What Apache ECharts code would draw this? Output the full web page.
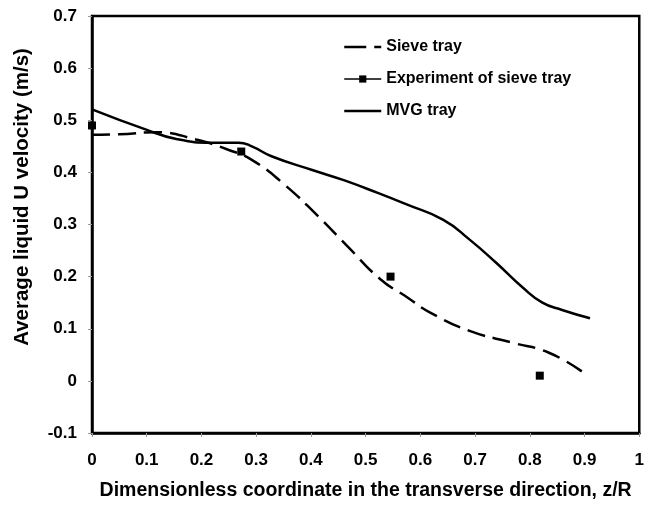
<!DOCTYPE html>
<html>
<head>
<meta charset="utf-8">
<script src="https://cdn.jsdelivr.net/npm/echarts@6/dist/echarts.min.js"></script>
<style>
html,body{margin:0;padding:0;background:#fff;}
#chart{width:647px;height:506px;}
</style>
</head>
<body>
<div id="chart"></div>
<script>
// ---- data ----
const sieveX = [0, 0.05, 0.118, 0.19, 0.25, 0.292, 0.35, 0.413, 0.467, 0.527, 0.575, 0.618, 0.69, 0.769, 0.835, 0.898];
const sieveY = [0.472, 0.473, 0.477, 0.463, 0.443, 0.424, 0.378, 0.316, 0.258, 0.195, 0.161, 0.131, 0.096, 0.073, 0.054, 0.016];

const expX = [0, 0.2727, 0.5455, 0.8182];
const expY = [0.49, 0.44, 0.20, 0.01];

const mvgX = [0, 0.099, 0.154, 0.22, 0.268, 0.292, 0.328, 0.401, 0.46, 0.521, 0.576, 0.642, 0.69, 0.738, 0.787, 0.823, 0.859, 0.91];
const mvgY = [0.521, 0.482, 0.464, 0.457, 0.457, 0.450, 0.431, 0.405, 0.385, 0.361, 0.338, 0.309, 0.271, 0.227, 0.179, 0.150, 0.136, 0.120];

const seriesNames = ['Sieve tray', 'Experiment of sieve tray', 'MVG tray'];
const xTitle = 'Dimensionless coordinate in the transverse direction, z/R';
const yTitle = 'Average liquid U velocity (m/s)';

const pairs = (xs, ys) => xs.map((x, i) => [x, ys[i]]);
const FONT = 'Liberation Sans, Arial, sans-serif';

const chart = echarts.init(document.getElementById('chart'), null, {renderer: 'canvas'});
const fmt = v => {
  const r = Math.round(v * 10) / 10;
  return r === 0 ? '0' : String(r);
};

chart.setOption({
  animation: false,
  backgroundColor: '#fff',
  grid: {
    left: 92, right: 2, top: 16, bottom: 72,
    show: true, borderColor: '#000', borderWidth: 2.5
  },
  graphic: [{
    type: 'text',
    rotation: Math.PI / 2,
    x: 22, y: 197,
    style: {
      text: yTitle, fill: '#000',
      font: 'bold 20.5px ' + FONT,
      align: 'center', verticalAlign: 'middle'
    }
  }],
  legend: {
    orient: 'vertical',
    left: 338, top: 34,
    itemWidth: 37, itemHeight: 9, itemGap: 16,
    textStyle: {fontFamily: FONT, fontWeight: 'bold', fontSize: 16, color: '#000'},
    data: [
      {name: seriesNames[0], itemStyle: {opacity: 0}, lineStyle: {type: [22, 8], width: 2.5, color: '#000'}},
      {name: seriesNames[1], itemStyle: {opacity: 1, color: '#000'}, lineStyle: {opacity: 1, width: 1.5, color: '#000'}},
      {name: seriesNames[2], itemStyle: {opacity: 0}, lineStyle: {width: 2.5, color: '#000'}}
    ]
  },
  xAxis: {
    type: 'value', min: 0, max: 1, interval: 0.1,
    name: xTitle, nameLocation: 'middle', nameGap: 48,
    nameTextStyle: {fontFamily: FONT, fontWeight: 'bold', fontSize: 19.5, color: '#000'},
    axisLine: {show: true, onZero: false, lineStyle: {color: '#000', width: 2.5}},
    axisTick: {show: true, length: 4, lineStyle: {color: '#999', width: 1}},
    axisLabel: {margin: 19, fontFamily: FONT, fontWeight: 'bold', fontSize: 17, color: '#000', formatter: fmt},
    splitLine: {show: false}
  },
  yAxis: {
    type: 'value', min: -0.1, max: 0.7, interval: 0.1,
    axisLine: {show: true, onZero: false, lineStyle: {color: '#000', width: 2.5}},
    axisTick: {show: true, length: 4, lineStyle: {color: '#999', width: 1}},
    axisLabel: {margin: 15, fontFamily: FONT, fontWeight: 'bold', fontSize: 17, color: '#000', formatter: fmt},
    splitLine: {show: false}
  },
  series: [
    {
      name: seriesNames[0], type: 'line', data: pairs(sieveX, sieveY),
      smooth: 0.5, showSymbol: false, symbol: 'none',
      lineStyle: {color: '#000', width: 2.5, type: [18, 8]},
      itemStyle: {color: '#000'}
    },
    {
      name: seriesNames[1], type: 'line', data: pairs(expX, expY),
      symbol: 'rect', symbolSize: 8, showSymbol: true,
      lineStyle: {opacity: 0, width: 1.5, color: '#000'},
      itemStyle: {color: '#000'}, z: 5
    },
    {
      name: seriesNames[2], type: 'line', data: pairs(mvgX, mvgY),
      smooth: 0.5, showSymbol: false, symbol: 'none',
      lineStyle: {color: '#000', width: 2.5},
      itemStyle: {color: '#000'}
    }
  ]
});
</script>
</body>
</html>
